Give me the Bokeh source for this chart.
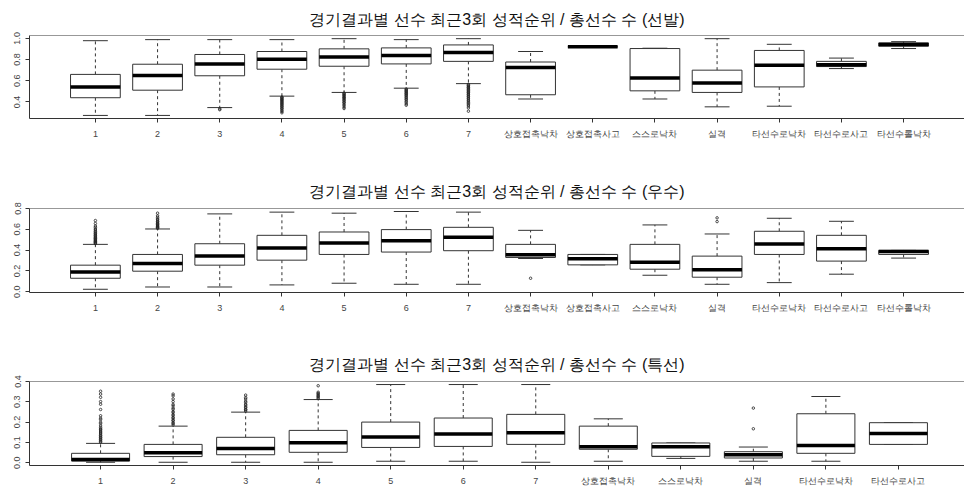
from bokeh.plotting import figure
from bokeh.models import Range1d, FixedTicker, Span, PrintfTickFormatter
from bokeh.layouts import column
from bokeh.embed import file_html
from bokeh.resources import INLINE

TITLE_BASE = "경기결과별 선수 최근3회 성적순위 / 총선수 수"

# ---------------- panel 1 : 선발 ----------------
cats_1 = ["1", "2", "3", "4", "5", "6", "7", "상호접촉낙차", "상호접촉사고",
          "스스로낙차", "실격", "타선수로낙차", "타선수로사고", "타선수롤낙차"]
low_1 = [0.273, 0.273, 0.347, 0.455, 0.490, 0.530, 0.573, 0.428, 0.920, 0.428, 0.354, 0.360, 0.715, 0.904]
q1_1 = [0.440, 0.511, 0.647, 0.709, 0.737, 0.759, 0.783, 0.468, 0.920, 0.505, 0.490, 0.542, 0.734, 0.926]
med_1 = [0.542, 0.650, 0.759, 0.802, 0.824, 0.839, 0.867, 0.725, 0.920, 0.626, 0.579, 0.746, 0.752, 0.941]
q3_1 = [0.660, 0.756, 0.848, 0.876, 0.901, 0.910, 0.938, 0.777, 0.920, 0.904, 0.700, 0.886, 0.783, 0.957]
up_1 = [0.978, 0.988, 0.988, 0.988, 0.997, 0.988, 0.997, 0.876, 0.920, 0.907, 0.997, 0.944, 0.814, 0.969]
out_1 = {
    3: [0.335, 0.327],
    4: [0.446, 0.441, 0.433, 0.426, 0.419, 0.410, 0.403, 0.394, 0.388, 0.379, 0.371, 0.361,
        0.353, 0.342, 0.334, 0.321, 0.311, 0.298],
    5: [0.483, 0.476, 0.467, 0.461, 0.452, 0.444, 0.438, 0.429, 0.419, 0.411, 0.399, 0.391,
        0.377, 0.366, 0.351, 0.338],
    6: [0.523, 0.514, 0.508, 0.499, 0.493, 0.483, 0.477, 0.467, 0.461, 0.449, 0.441, 0.429,
        0.421, 0.407, 0.396, 0.381, 0.369],
    7: [0.566, 0.556, 0.550, 0.540, 0.534, 0.524, 0.518, 0.508, 0.501, 0.491, 0.485, 0.474,
        0.467, 0.456, 0.449, 0.437, 0.429, 0.417, 0.408, 0.395, 0.386, 0.373, 0.362, 0.344, 0.313],
}
yr_1 = (0.244, 1.027)
yt_1 = [0.4, 0.6, 0.8, 1.0]

# ---------------- panel 2 : 우수 ----------------
cats_2 = list(cats_1)
low_2 = [0.023, 0.045, 0.045, 0.065, 0.081, 0.071, 0.071, 0.319, 0.258, 0.158, 0.071, 0.087, 0.168, 0.323]
q1_2 = [0.129, 0.197, 0.255, 0.303, 0.358, 0.381, 0.394, 0.329, 0.258, 0.216, 0.139, 0.358, 0.294, 0.358]
med_2 = [0.190, 0.271, 0.342, 0.419, 0.468, 0.490, 0.523, 0.355, 0.316, 0.284, 0.210, 0.458, 0.413, 0.387]
q3_2 = [0.255, 0.358, 0.461, 0.542, 0.574, 0.597, 0.619, 0.455, 0.358, 0.455, 0.342, 0.581, 0.542, 0.397]
up_2 = [0.455, 0.603, 0.748, 0.765, 0.755, 0.771, 0.765, 0.590, 0.358, 0.642, 0.555, 0.706, 0.677, 0.397]
out_2 = {
    1: [0.462, 0.469, 0.473, 0.481, 0.486, 0.495, 0.499, 0.508, 0.513, 0.522, 0.527, 0.537,
        0.544, 0.554, 0.561, 0.572, 0.580, 0.593, 0.603, 0.618, 0.631, 0.656, 0.684],
    2: [0.609, 0.616, 0.620, 0.628, 0.632, 0.641, 0.646, 0.655, 0.661, 0.672, 0.679, 0.691,
        0.700, 0.715, 0.729, 0.755],
    8: [0.129],
    11: [0.674, 0.710],
}
yr_2 = (-0.008, 0.800)
yt_2 = [0.0, 0.2, 0.4, 0.6, 0.8]

# ---------------- panel 3 : 특선 ----------------
cats_3 = ["1", "2", "3", "4", "5", "6", "7", "상호접촉낙차", "스스로낙차",
          "실격", "타선수로낙차", "타선수로사고"]
low_3 = [0.002, 0.002, 0.002, 0.002, 0.007, 0.007, 0.002, 0.007, 0.021, 0.007, 0.007, 0.090]
q1_3 = [0.008, 0.030, 0.039, 0.051, 0.075, 0.080, 0.090, 0.066, 0.031, 0.023, 0.046, 0.090]
med_3 = [0.016, 0.049, 0.070, 0.098, 0.126, 0.141, 0.148, 0.079, 0.079, 0.039, 0.084, 0.144]
q3_3 = [0.046, 0.090, 0.125, 0.159, 0.200, 0.220, 0.238, 0.180, 0.097, 0.054, 0.241, 0.197]
up_3 = [0.095, 0.180, 0.249, 0.311, 0.385, 0.385, 0.385, 0.216, 0.097, 0.077, 0.326, 0.197]
out_3 = {
    1: [0.101, 0.104, 0.111, 0.114, 0.121, 0.124, 0.131, 0.134, 0.141, 0.146, 0.151, 0.156,
        0.162, 0.166, 0.172, 0.181, 0.192, 0.199, 0.212, 0.219, 0.231, 0.262, 0.288, 0.301,
        0.322, 0.338, 0.352],
    2: [0.186, 0.193, 0.197, 0.206, 0.210, 0.219, 0.223, 0.232, 0.237, 0.247, 0.252, 0.263,
        0.269, 0.280, 0.287, 0.301, 0.314, 0.329, 0.338],
    3: [0.254, 0.260, 0.263, 0.271, 0.275, 0.283, 0.288, 0.297, 0.303, 0.314, 0.321, 0.333],
    4: [0.316, 0.321, 0.327, 0.330, 0.337, 0.341, 0.347, 0.379],
    10: [0.167, 0.269],
}
yr_3 = (-0.014, 0.400)
yt_3 = [0.0, 0.1, 0.2, 0.3, 0.4]

LINE = "#333333"
FIG_W = 964
LEFT = 29
R_REGION_W = 940  # width of the plotting region of the original


def make_panel(title, cats, low, q1, med, q3, up, outliers, yr, yt, height, top, bottom, standoff):
    n = len(cats)
    xs = list(range(1, n + 1))
    ppu = R_REGION_W / (n * 1.08)
    x0 = 0.5 - 0.04 * n
    x1 = x0 + (FIG_W - LEFT) / ppu
    p = figure(width=FIG_W, height=height, x_range=Range1d(x0, x1), y_range=Range1d(*yr),
               output_backend="svg", toolbar_location=None,
               min_border_left=LEFT, min_border_right=0,
               min_border_top=top, min_border_bottom=bottom,
               background_fill_color="white", border_fill_color="white")
    p.outline_line_color = None
    p.xgrid.visible = False
    p.ygrid.visible = False

    p.title.text = title
    p.title.align = "center"
    p.title.text_font = "Liberation Sans"
    p.title.text_font_size = "16px"
    p.title.text_font_style = "normal"
    p.title.text_color = "#111111"
    p.title.standoff = standoff

    # x axis
    xa = p.xaxis[0]
    xa.ticker = FixedTicker(ticks=xs)
    xa.major_label_overrides = {i + 1: c for i, c in enumerate(cats)}
    xa.major_label_text_font = "Liberation Sans"
    xa.major_label_text_font_size = "9px"
    xa.major_label_text_color = "#444444"
    xa.major_label_standoff = 6
    xa.axis_line_color = LINE
    xa.major_tick_line_color = LINE
    xa.major_tick_out = 4
    xa.major_tick_in = 0
    xa.minor_tick_line_color = None

    ya = p.yaxis[0]
    ya.ticker = FixedTicker(ticks=yt)
    ya.formatter = PrintfTickFormatter(format="%.1f")
    ya.major_label_orientation = "vertical"
    ya.major_label_text_font = "Liberation Sans"
    ya.major_label_text_font_size = "9px"
    ya.major_label_text_color = "#444444"
    ya.major_label_standoff = 5
    ya.axis_line_color = LINE
    ya.major_tick_line_color = LINE
    ya.major_tick_out = 4
    ya.major_tick_in = 0
    ya.minor_tick_line_color = None

    p.add_layout(Span(location=yr[1], dimension="width", line_color=LINE, line_width=1))

    bw = 0.4
    cw = 0.2
    # whiskers
    p.segment(x0=xs, y0=q3, x1=xs, y1=up, line_color=LINE, line_width=1, line_dash="3 3")
    p.segment(x0=xs, y0=q1, x1=xs, y1=low, line_color=LINE, line_width=1, line_dash="3 3")
    # caps
    p.segment(x0=[x - cw for x in xs], y0=up, x1=[x + cw for x in xs], y1=up,
              line_color=LINE, line_width=1)
    p.segment(x0=[x - cw for x in xs], y0=low, x1=[x + cw for x in xs], y1=low,
              line_color=LINE, line_width=1)
    # boxes
    p.quad(left=[x - bw for x in xs], right=[x + bw for x in xs], bottom=q1, top=q3,
           fill_color="white", line_color=LINE, line_width=1)
    # medians
    p.segment(x0=[x - bw for x in xs], y0=med, x1=[x + bw for x in xs], y1=med,
              line_color="black", line_width=3.5, line_cap="butt")
    # outliers
    ox, oy = [], []
    for k, vals in outliers.items():
        ox += [k] * len(vals)
        oy += vals
    p.scatter(x=ox, y=oy, marker="circle", size=2.5, line_color="#222222",
              fill_color=None, line_width=0.8)
    return p


p1 = make_panel(TITLE_BASE + " (선발)", cats_1, low_1, q1_1, med_1, q3_1, up_1, out_1,
                yr_1, yt_1, 160, 34, 42, 16)
p2 = make_panel(TITLE_BASE + " (우수)", cats_2, low_2, q1_2, med_2, q3_2, up_2, out_2,
                yr_2, yt_2, 160, 48, 28, 17)
p3 = make_panel(TITLE_BASE + " (특선)", cats_3, low_3, q1_3, med_3, q3_3, up_3, out_3,
                yr_3, yt_3, 169, 61, 24, 17)

layout = column(p1, p2, p3, spacing=0)
open("out.html", "w").write(file_html(layout, INLINE, title="boxplots"))
